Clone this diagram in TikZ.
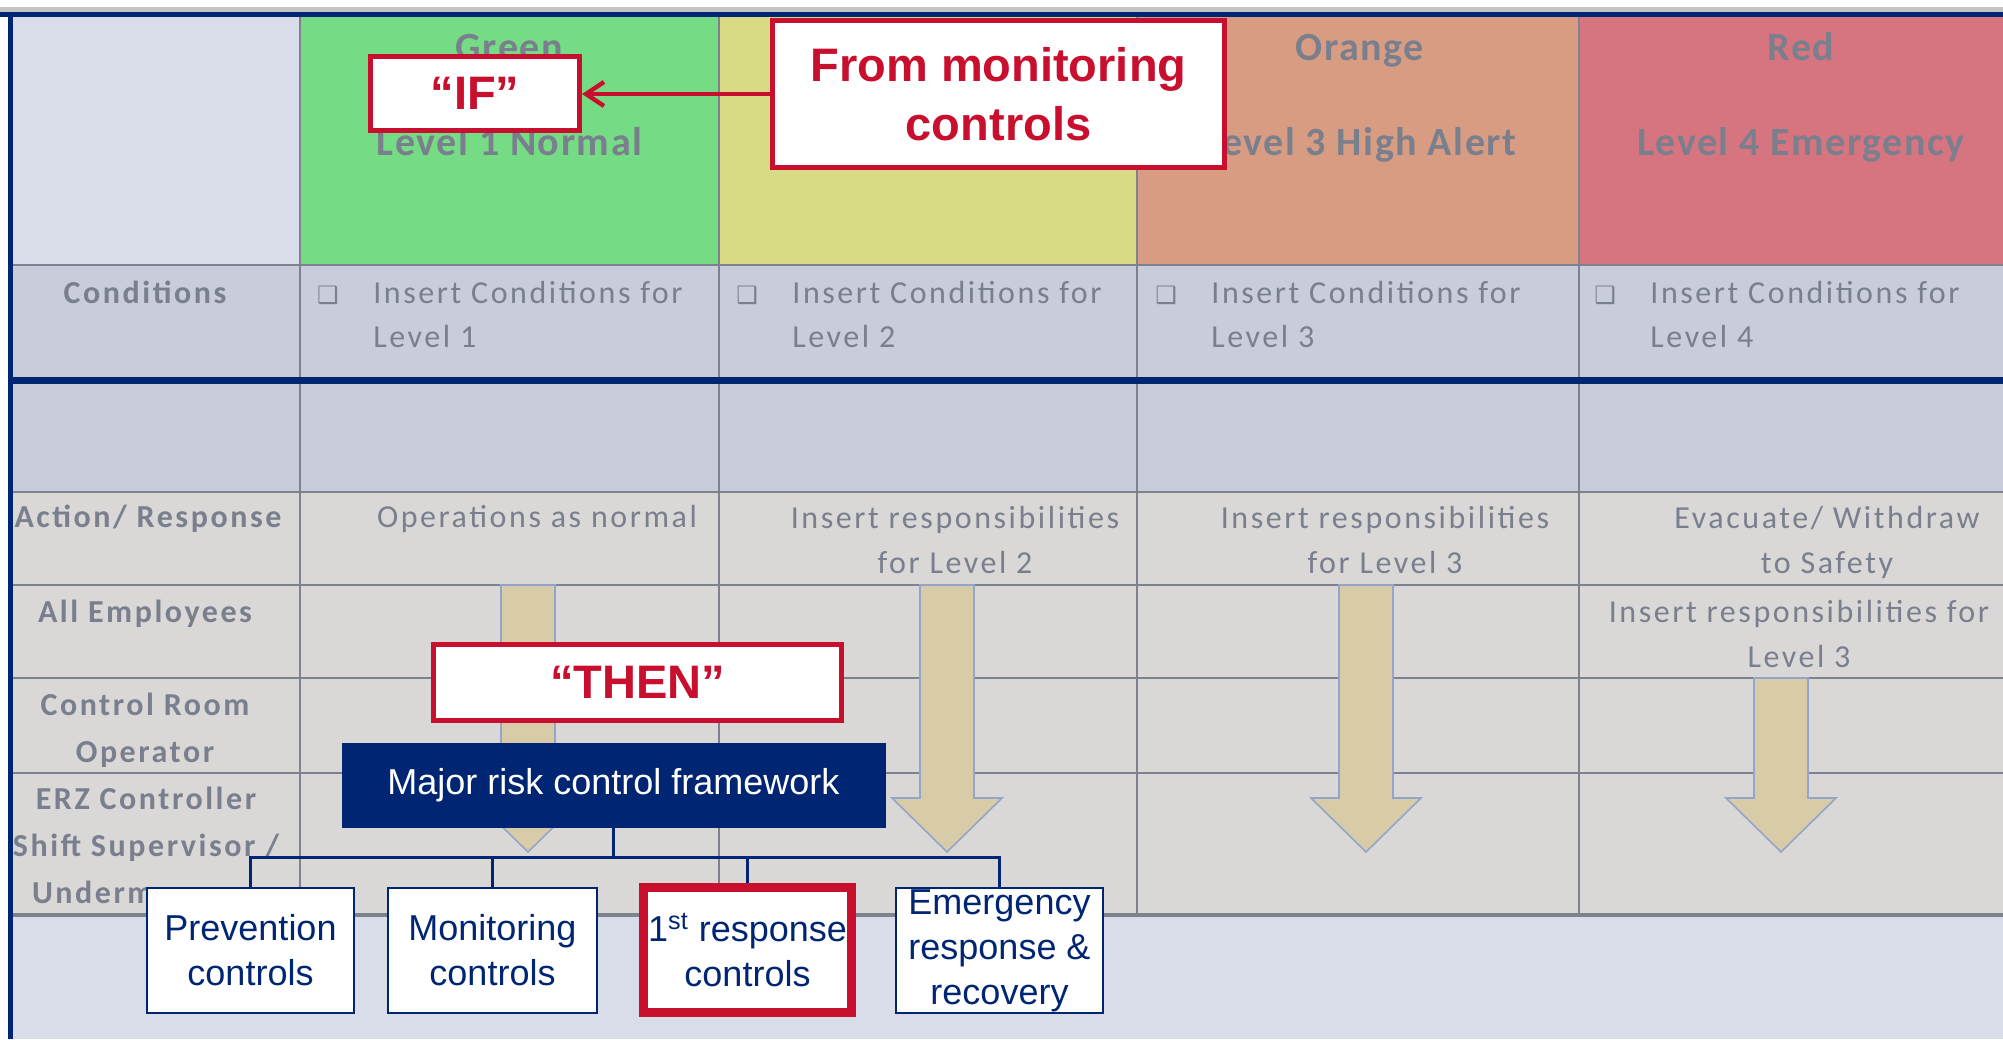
\documentclass[tikz,border=0pt]{standalone}
\usepackage{fontspec}
\setmainfont{Carlito}
\newfontfamily\cellfont[LetterSpace=8]{Carlito}
\newfontfamily\headfont[LetterSpace=4]{Carlito}
\newfontfamily\notefont{Liberation Sans}
\newfontfamily\symfont{DejaVu Sans}
\usetikzlibrary{arrows.meta}
\definecolor{navy}{RGB}{0,38,115}
\definecolor{alertred}{RGB}{200,16,46}
\definecolor{faded}{RGB}{122,127,142}
\definecolor{gridgrey}{RGB}{126,129,142}
\definecolor{stripgrey}{RGB}{196,196,196}
\definecolor{lavender}{RGB}{217,220,233}
\definecolor{rowblue}{RGB}{201,205,219}
\definecolor{rowgrey}{RGB}{217,216,215}
\definecolor{levelgreen}{RGB}{117,219,132}
\definecolor{levelyellow}{RGB}{217,218,134}
\definecolor{levelorange}{RGB}{216,156,131}
\definecolor{levelred}{RGB}{214,116,128}
\definecolor{arrowtan}{RGB}{216,204,168}
\definecolor{arrowedge}{RGB}{147,165,201}
\tikzset{
    grid-line/.style = {draw=gridgrey, line width=1.2pt},
    frame-line/.style = {draw=navy, line width=2.5pt},
    level-title/.style = {font=\headfont\bfseries\fontsize{20}{24}\selectfont, text=faded, anchor=base},
    row-label/.style = {font=\cellfont\bfseries\fontsize{16}{23.5}\selectfont, text=faded, align=center, anchor=base},
    cell-text/.style = {font=\cellfont\fontsize{16}{22.5}\selectfont, text=faded, align=center, anchor=base},
    cond-text/.style = {font=\cellfont\fontsize{16}{22}\selectfont, text=faded, align=left, anchor=base west, inner sep=0pt},
    cond-bullet/.style = {font=\symfont\fontsize{12}{12}\selectfont, text=faded, anchor=base, inner sep=0pt},
    flow-arrow/.style = {fill=arrowtan, draw=arrowedge, line width=0.8pt},
    note-box/.style = {draw=alertred, fill=white, line width=2.5pt, inner sep=0pt, text=alertred, align=center, font=\notefont\bfseries\fontsize{23.5}{29.5}\selectfont},
    note-arrow/.style = {draw=alertred, line width=2.2pt, -{Straight Barb[length=9pt,width=12pt]}},
    framework-box/.style = {fill=navy, text=white, inner sep=0pt, font=\notefont\fontsize{18}{22}\selectfont},
    control-box/.style = {draw=navy, fill=white, line width=1.2pt, inner sep=0pt, text=navy, align=center, font=\notefont\fontsize{18}{22.5}\selectfont, minimum width=103.5pt, minimum height=62.5pt},
    tree-line/.style = {draw=navy, line width=1.2pt},
}
\begin{document}
\begin{tikzpicture}[x=0.5pt,y=-0.5pt]
\useasboundingbox (0,0) rectangle (2003,1039);
\clip (0,0) rectangle (2003,1039);
\fill[white] (0,0) rectangle (2003,1039);
\fill[stripgrey] (0,7) rectangle (2003,12);
\fill[lavender] (12,17) rectangle (300,265);
\fill[levelgreen] (300,17) rectangle (719,265);
\fill[levelyellow] (719,17) rectangle (1137,265);
\fill[levelorange] (1137,17) rectangle (1579,265);
\fill[levelred] (1579,17) rectangle (2003,265);
\fill[rowblue] (12,265) rectangle (2003,492);
\fill[rowgrey] (12,492) rectangle (2003,915);
\fill[lavender] (12,915) rectangle (2003,1039);

\draw[grid-line] (12,265) -- (2003,265);
\draw[grid-line] (12,492) -- (2003,492);
\draw[grid-line] (12,585) -- (2003,585);
\draw[grid-line] (12,678) -- (2003,678);
\draw[grid-line] (12,773) -- (2003,773);
\draw[grid-line, line width=1.8pt] (12,915) -- (2003,915);
\draw[grid-line] (300,17) -- (300,915);
\draw[grid-line] (719,17) -- (719,915);
\draw[grid-line] (1137,17) -- (1137,915);
\draw[grid-line] (1579,17) -- (1579,915);

\node[level-title] (title-green) at (509.5,60) {Green};
\node[level-title] (level-green) at (509.5,155) {Level 1 Normal};
\node[level-title] (title-orange) at (1360,60) {Orange};
\node[level-title] (level-orange) at (1360,155) {Level 3 High Alert};
\node[level-title] (title-red) at (1801,60) {Red};
\node[level-title] (level-red) at (1801,155) {Level 4 Emergency};

\node[row-label] (conditions) at (145,303) {Conditions};
\node[cond-bullet] (bullet-1) at (328,303) {❑};
\node[cond-text] (cond-1) at (373,347) {Insert Conditions for\\Level 1};
\node[cond-bullet] (bullet-2) at (747,303) {❑};
\node[cond-text] (cond-2) at (792,347) {Insert Conditions for\\Level 2};
\node[cond-bullet] (bullet-3) at (1166,303) {❑};
\node[cond-text] (cond-3) at (1211,347) {Insert Conditions for\\Level 3};
\node[cond-bullet] (bullet-4) at (1605,303) {❑};
\node[cond-text] (cond-4) at (1650,347) {Insert Conditions for\\Level 4};

\node[row-label] (action) at (148,527) {Action/ Response};
\node[cell-text] (action-1) at (537,527) {Operations as normal};
\node[cell-text] (action-2) at (955,573) {Insert responsibilities\\for Level 2};
\node[cell-text] (action-3) at (1385,573) {Insert responsibilities\\for Level 3};
\node[cell-text] (action-4) at (1827,573) {Evacuate/ Withdraw\\to Safety};
\node[row-label] (employees) at (145,622) {All Employees};
\node[cell-text] (employees-4) at (1799,667) {Insert responsibilities for\\Level 3};
\node[row-label] (operator) at (145,762) {Control Room\\Operator};
\node[row-label] (controller) at (146,903) {ERZ Controller\\Shift Supervisor /\\Undermanager};

\draw[frame-line] (0,14.5) -- (2003,14.5);
\draw[frame-line] (10.5,12) -- (10.5,1039);
\draw[frame-line, line width=3.5pt] (10,380.5) -- (2003,380.5);

\draw[flow-arrow] (501,585) -- (555,585) -- (555,798) -- (583,798) -- (528,852) -- (473,798) -- (501,798) -- cycle;
\draw[flow-arrow] (920,585) -- (974,585) -- (974,798) -- (1002,798) -- (947,852) -- (892,798) -- (920,798) -- cycle;
\draw[flow-arrow] (1339,585) -- (1393,585) -- (1393,798) -- (1421,798) -- (1366,852) -- (1311,798) -- (1339,798) -- cycle;
\draw[flow-arrow] (1754,678) -- (1808,678) -- (1808,798) -- (1836,798) -- (1781,852) -- (1726,798) -- (1754,798) -- cycle;

\node[note-box, minimum width=104.5pt, minimum height=37pt] (if-box) at (475,93.5) {“IF”};
\node[note-box, minimum width=226pt, minimum height=73.5pt] (from-box) at (998.5,94) {From monitoring\\controls};
\draw[note-arrow] (from-box.west) -- (if-box.east |- from-box.west);
\node[note-box, minimum width=204pt, minimum height=38pt] (then-box) at (637.5,682.5) {“THEN”};

\node[framework-box, minimum width=272pt, minimum height=42.5pt] (framework) at (613.5,785.5) {Major risk control framework};
\node[control-box] (prevention) at (250.5,950.5) {Prevention\\controls};
\node[control-box, minimum width=104.5pt] (monitoring) at (492.5,950.5) {Monitoring\\controls};
\node[control-box, draw=alertred, line width=4.5pt, minimum width=104pt] (first-response) at (747.5,950) {1\textsuperscript{st} response\\controls};
\node[control-box] (emergency) at (999.5,950.5) {Emergency\\response \&\\recovery};
\draw[tree-line] (framework.south) -- ++(0,29) coordinate (tree-joint);
\draw[tree-line] (tree-joint) -| (prevention.north);
\draw[tree-line] (tree-joint) -| (monitoring.north);
\draw[tree-line] (tree-joint) -| (first-response.north);
\draw[tree-line] (tree-joint) -| (emergency.north);
\end{tikzpicture}
\end{document}
